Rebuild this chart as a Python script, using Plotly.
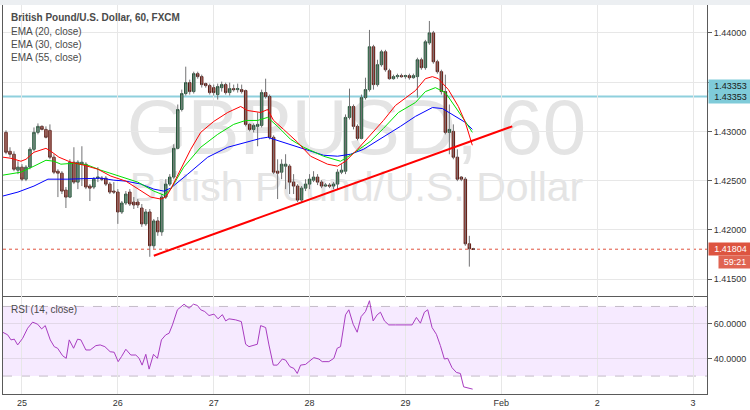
import plotly.graph_objects as go

# ---------------- data ----------------
# candle times: hours from 25 Jan 00:00 (hourly bars)
hours = list(range(-4, 114))

opens = [1.42990, 1.42798, 1.42768, 1.42606, 1.42637, 1.42515, 1.42637, 1.42818, 1.42990, 1.43051,
         1.43020, 1.43010, 1.42738, 1.42596, 1.42576, 1.42404, 1.42333, 1.42687, 1.42485, 1.42667,
         1.42667, 1.42445, 1.42435, 1.42525, 1.42525, 1.42525, 1.42465, 1.42394, 1.42384, 1.42182,
         1.42273, 1.42384, 1.42283, 1.42283, 1.42222, 1.42061, 1.42182, 1.41839, 1.42091, 1.41980,
         1.42333, 1.42465, 1.42536, 1.42828, 1.43222, 1.43384, 1.43495, 1.43404, 1.43586, 1.43556,
         1.43485, 1.43465, 1.43444, 1.43374, 1.43444, 1.43475, 1.43394, 1.43434, 1.43424, 1.43424,
         1.43414, 1.43071, 1.43020, 1.43051, 1.43061, 1.43394, 1.43354, 1.42940, 1.42596, 1.42586,
         1.42647, 1.42647, 1.42485, 1.42445, 1.42303, 1.42424, 1.42465, 1.42505, 1.42536, 1.42485,
         1.42445, 1.42455, 1.42445, 1.42465, 1.42586, 1.42596, 1.43142, 1.43253, 1.43051, 1.42929,
         1.43343, 1.43424, 1.43859, 1.43475, 1.43677, 1.43808, 1.43616, 1.43535, 1.43556, 1.43566,
         1.43556, 1.43566, 1.43545, 1.43556, 1.43727, 1.43647, 1.43899, 1.44000, 1.43707, 1.43606,
         1.43404, 1.42990, 1.43000, 1.42738, 1.42536, 1.42515, 1.41859, 1.41808]
highs = [1.43010, 1.42839, 1.42798, 1.42697, 1.42667, 1.42657, 1.42839, 1.43040, 1.43081, 1.43061,
         1.43051, 1.43071, 1.42768, 1.42616, 1.42596, 1.42435, 1.42717, 1.42839, 1.42707, 1.42849,
         1.42687, 1.42465, 1.42536, 1.42637, 1.42546, 1.42546, 1.42485, 1.42485, 1.42414, 1.42293,
         1.42394, 1.42414, 1.42333, 1.42313, 1.42263, 1.42212, 1.42212, 1.42111, 1.42131, 1.42364,
         1.42515, 1.42566, 1.42869, 1.43273, 1.43424, 1.43657, 1.43525, 1.43606, 1.43606, 1.43576,
         1.43495, 1.43485, 1.43475, 1.43485, 1.43505, 1.43495, 1.43495, 1.43475, 1.43485, 1.43475,
         1.43424, 1.43081, 1.43081, 1.43192, 1.43424, 1.43535, 1.43374, 1.42960, 1.42717, 1.42717,
         1.42768, 1.42667, 1.42566, 1.42465, 1.42445, 1.42515, 1.42566, 1.42596, 1.42566, 1.42505,
         1.42475, 1.42475, 1.42485, 1.42616, 1.42667, 1.43172, 1.43434, 1.43273, 1.43071, 1.43374,
         1.43545, 1.44030, 1.43879, 1.43727, 1.43828, 1.43828, 1.43636, 1.43576, 1.43586, 1.43586,
         1.43576, 1.43586, 1.43586, 1.43748, 1.43748, 1.43929, 1.44121, 1.44020, 1.43727, 1.43626,
         1.43576, 1.43273, 1.43071, 1.42818, 1.42546, 1.42536, 1.41940, 1.41818]
lows = [1.42768, 1.42738, 1.42596, 1.42566, 1.42495, 1.42495, 1.42616, 1.42798, 1.42970, 1.43010,
        1.42929, 1.42717, 1.42566, 1.42333, 1.42364, 1.42222, 1.42323, 1.42465, 1.42414, 1.42445,
        1.42414, 1.42293, 1.42414, 1.42485, 1.42495, 1.42445, 1.42364, 1.42364, 1.42061, 1.42162,
        1.42253, 1.42243, 1.42212, 1.42222, 1.42031, 1.42041, 1.41727, 1.41808, 1.41940, 1.41940,
        1.42313, 1.42445, 1.42515, 1.42818, 1.43202, 1.43364, 1.43374, 1.43384, 1.43535, 1.43445,
        1.43444, 1.43374, 1.43364, 1.43323, 1.43404, 1.43374, 1.43364, 1.43404, 1.43394, 1.43384,
        1.43051, 1.43000, 1.42990, 1.42849, 1.43040, 1.43333, 1.42919, 1.42566, 1.42313, 1.42515,
        1.42414, 1.42364, 1.42364, 1.42283, 1.42283, 1.42394, 1.42414, 1.42485, 1.42455, 1.42424,
        1.42435, 1.42424, 1.42414, 1.42414, 1.42566, 1.42566, 1.43121, 1.43020, 1.42909, 1.42919,
        1.43323, 1.43404, 1.43424, 1.43455, 1.43657, 1.43606, 1.43525, 1.43525, 1.43535, 1.43545,
        1.43535, 1.43525, 1.43535, 1.43343, 1.43626, 1.43626, 1.43879, 1.43687, 1.43586, 1.43374,
        1.42970, 1.42768, 1.42717, 1.42495, 1.42495, 1.41839, 1.41627, 1.41798]
closes = [1.42788, 1.42768, 1.42616, 1.42637, 1.42515, 1.42637, 1.42818, 1.42990, 1.43051, 1.43020,
          1.42940, 1.42738, 1.42586, 1.42576, 1.42394, 1.42333, 1.42687, 1.42485, 1.42687, 1.42687,
          1.42435, 1.42424, 1.42515, 1.42536, 1.42515, 1.42465, 1.42384, 1.42384, 1.42182, 1.42273,
          1.42364, 1.42263, 1.42253, 1.42253, 1.42061, 1.42182, 1.41839, 1.42091, 1.41980, 1.42333,
          1.42465, 1.42536, 1.42828, 1.43222, 1.43384, 1.43495, 1.43404, 1.43586, 1.43556, 1.43475,
          1.43465, 1.43394, 1.43394, 1.43455, 1.43475, 1.43394, 1.43434, 1.43424, 1.43434, 1.43404,
          1.43071, 1.43020, 1.43061, 1.43071, 1.43394, 1.43354, 1.42940, 1.42586, 1.42576, 1.42667,
          1.42667, 1.42485, 1.42445, 1.42303, 1.42424, 1.42465, 1.42515, 1.42536, 1.42485, 1.42445,
          1.42455, 1.42445, 1.42465, 1.42586, 1.42606, 1.43142, 1.43253, 1.43051, 1.42929, 1.43343,
          1.43424, 1.43859, 1.43475, 1.43677, 1.43808, 1.43626, 1.43535, 1.43556, 1.43566, 1.43556,
          1.43566, 1.43545, 1.43566, 1.43727, 1.43647, 1.43909, 1.44000, 1.43707, 1.43606, 1.43404,
          1.42990, 1.43020, 1.42738, 1.42515, 1.42515, 1.41859, 1.41808, 1.41804]

ema20_t = [-4.75, -2.75, -0.25, 1.0, 3.0, 6.0, 7.25, 9.25, 12.25, 15.5, 19.0, 22.25, 26.0, 29.0,
           32.25, 34.75, 36.0, 37.25, 39.75, 42.25, 44.75, 48.0, 51.5, 54.75, 56.5, 59.75, 61.5,
           63.0, 65.5, 69.0, 72.25, 76.5, 79.0, 81.0, 84.0, 87.25, 90.5, 93.5, 96.0, 98.5, 101.0,
           102.75, 104.25, 106.75, 109.25, 111.0, 112.75]
ema20_v = [1.42738, 1.42727, 1.42697, 1.42717, 1.42788, 1.42828, 1.42798, 1.42738, 1.42687, 1.42657,
           1.42616, 1.42546, 1.42495, 1.42414, 1.42333, 1.42313, 1.42333, 1.42414, 1.42616, 1.42818,
           1.42990, 1.43101, 1.43192, 1.43253, 1.43212, 1.43192, 1.43222, 1.43111, 1.43020, 1.42889,
           1.42748, 1.42667, 1.42647, 1.42697, 1.42818, 1.42960, 1.43111, 1.43263, 1.43343, 1.43414,
           1.43535, 1.43556, 1.43535, 1.43424, 1.43253, 1.43091, 1.42859]

ema30_t = [-4.75, -2.0, -0.25, 3.0, 6.0, 8.0, 9.75, 13.0, 16.5, 19.75, 23.0, 26.0, 29.0, 33.0, 35.5,
           37.25, 40.5, 44.75, 49.0, 53.0, 56.0, 59.0, 61.5, 64.0, 67.25, 70.5, 75.5, 79.75, 83.0,
           87.25, 90.5, 94.25, 98.5, 101.0, 103.5, 106.0, 108.5, 111.0, 112.75]
ema30_v = [1.42556, 1.42576, 1.42586, 1.42647, 1.42707, 1.42697, 1.42667, 1.42677, 1.42657, 1.42606,
           1.42566, 1.42525, 1.42485, 1.42394, 1.42354, 1.42414, 1.42637, 1.42839, 1.42970, 1.43071,
           1.43111, 1.43111, 1.43142, 1.43051, 1.42919, 1.42839, 1.42748, 1.42697, 1.42778, 1.42899,
           1.43030, 1.43192, 1.43293, 1.43404, 1.43444, 1.43394, 1.43253, 1.43101, 1.42990]

ema55_t = [-4.75, -1.0, 3.0, 6.5, 11.5, 16.5, 19.75, 23.0, 26.0, 29.75, 33.0, 35.5, 37.25, 41.5,
           46.5, 51.5, 56.0, 59.75, 61.5, 65.5, 69.75, 75.5, 79.0, 82.25, 85.5, 90.5, 94.75, 98.5,
           102.75, 105.25, 108.5, 111.0, 112.75]
ema55_v = [1.42344, 1.42384, 1.42445, 1.42515, 1.42515, 1.42525, 1.42525, 1.42505, 1.42495, 1.42465,
           1.42414, 1.42394, 1.42424, 1.42566, 1.42738, 1.42839, 1.42889, 1.42929, 1.42940, 1.42889,
           1.42839, 1.42758, 1.42748, 1.42768, 1.42818, 1.42940, 1.43051, 1.43152, 1.43242, 1.43232,
           1.43152, 1.43091, 1.43020]

rsi_t = [-4.83, -3.58, -2.75, -1.92, -1.08, 0.17, 1.42, 2.67, 3.92, 4.92, 5.83, 7.08, 8.08, 8.92,
         10.17, 11.08, 11.83, 12.92, 13.92, 14.75, 16.0, 17.08, 18.5, 19.58, 20.75, 22.08, 23.08,
         24.08, 24.92, 26.0, 27.25, 28.5, 29.33, 30.08, 31.0, 31.83, 32.92, 33.92, 34.92, 36.0,
         36.83, 37.67, 38.92, 40.58, 41.83, 42.92, 43.92, 44.75, 45.75, 46.83, 48.08, 49.08, 50.17,
         51.0, 51.83, 53.5, 54.92, 56.0, 56.83, 58.92, 59.75, 61.0, 61.83, 62.92, 63.92, 65.17,
         66.0, 67.08, 68.08, 68.92, 69.75, 71.0, 71.83, 73.08, 74.33, 75.17, 76.83, 78.08, 78.92,
         79.75, 81.0, 81.83, 82.92, 83.92, 84.92, 86.0, 87.0, 87.92, 88.92, 89.75, 90.75, 91.83,
         93.5, 95.17, 96.42, 97.67, 98.75, 99.75, 100.75, 101.58, 102.67, 103.75, 104.75, 105.75,
         106.58, 107.67, 108.75, 109.75, 110.58, 111.83, 112.83]
rsi_v = [55.2, 53.7, 50.8, 51.2, 47.9, 51.7, 57.5, 61.0, 59.8, 57.1, 59.0, 50.8, 46.9, 46.0, 41.7,
         40.2, 50.8, 46.0, 51.2, 50.8, 45.0, 45.0, 47.5, 47.9, 46.9, 44.0, 43.7, 38.3, 41.2, 45.4,
         42.1, 42.1, 40.2, 36.3, 42.5, 34.0, 42.5, 40.2, 50.8, 53.7, 54.6, 59.4, 68.1, 71.3, 69.0,
         71.3, 70.6, 68.1, 67.1, 64.8, 65.6, 62.9, 65.3, 61.7, 62.9, 62.3, 61.3, 48.3, 46.9, 48.3,
         59.0, 57.9, 47.9, 36.3, 36.3, 39.8, 39.2, 35.4, 34.4, 31.5, 36.3, 36.7, 38.3, 40.6, 39.8,
         38.3, 38.3, 40.2, 46.0, 46.9, 65.2, 68.1, 59.8, 55.2, 64.2, 67.1, 73.3, 61.7, 65.2, 66.7,
         61.7, 59.4, 59.4, 59.4, 59.0, 59.4, 63.7, 60.4, 66.7, 68.1, 57.9, 54.0, 47.5, 39.8, 40.2,
         34.8, 32.1, 31.5, 23.8, 23.3, 22.5]

trend_t = [33.0, 122.75]
trend_v = [1.41738, 1.43051]

level_price = 1.43353
last_price = 1.41804
countdown = "59:21"

day_ticks = [0, 24, 48, 72, 96, 120, 144, 168]
day_labels = ["25", "26", "27", "28", "29", "Feb", "2", "3"]
price_ticks = [1.415, 1.42, 1.425, 1.43, 1.435, 1.44]
price_labels = ["1.41500", "1.42000", "1.42500", "1.43000", "", "1.44000"]
rsi_ticks = [40, 60]
rsi_labels = ["40.0000", "60.0000"]

# ---------------- figure ----------------
FONT = "Liberation Sans, Arial, sans-serif"
WM_FONT = "Liberation Sans, Arial, sans-serif"
W, H = 750, 410
ML, MR, MT, MB = 2, 43, 5, 14
PH = H - MT - MB
split = (H - MB - 297) / PH  # RSI pane fraction


def py(ypix):
    return (H - MB - ypix) / PH


def px(xpix):
    return (xpix - ML) / (W - ML - MR)


fig = go.Figure()

# wicks
wx, wy = [], []
for t, hi, lo in zip(hours, highs, lows):
    wx += [t, t, None]
    wy += [lo, hi, None]
fig.add_trace(go.Scatter(x=wx, y=wy, mode="lines", line=dict(color="#737375", width=1),
                         hoverinfo="skip", showlegend=False, xaxis="x", yaxis="y"))

body_hi = [max(o, c) for o, c in zip(opens, closes)]
body_lo = [min(o, c) for o, c in zip(opens, closes)]
fig.add_trace(go.Candlestick(
    x=hours, open=opens, high=body_hi, low=body_lo, close=closes,
    increasing=dict(fillcolor="#6ba583", line=dict(color="#225437", width=1)),
    decreasing=dict(fillcolor="#d75442", line=dict(color="#5b1a13", width=1)),
    whiskerwidth=0, showlegend=False, xaxis="x", yaxis="y"))

fig.add_trace(go.Scatter(x=ema55_t, y=ema55_v, mode="lines", line=dict(color="#0000ff", width=1),
                         showlegend=False, xaxis="x", yaxis="y"))
fig.add_trace(go.Scatter(x=ema30_t, y=ema30_v, mode="lines", line=dict(color="#00e000", width=1),
                         showlegend=False, xaxis="x", yaxis="y"))
fig.add_trace(go.Scatter(x=ema20_t, y=ema20_v, mode="lines", line=dict(color="#ff0000", width=1),
                         showlegend=False, xaxis="x", yaxis="y"))

fig.add_trace(go.Scatter(x=trend_t, y=trend_v, mode="lines", line=dict(color="#ff0000", width=2),
                         showlegend=False, xaxis="x", yaxis="y"))

fig.add_trace(go.Scatter(x=rsi_t, y=rsi_v, mode="lines", line=dict(color="#a83cc0", width=1),
                         showlegend=False, xaxis="x2", yaxis="y2"))

shapes = [
    # top strip
    dict(type="rect", xref="paper", yref="paper", x0=-0.01, x1=1.07, y0=1.0, y1=py(0),
         fillcolor="#eceff2", line=dict(width=0), layer="above"),
    # level line
    dict(type="line", xref="paper", yref="y", x0=0, x1=1, y0=level_price, y1=level_price,
         line=dict(color="#8fd0dd", width=2), layer="below"),
    # last price line
    dict(type="line", xref="paper", yref="y", x0=0, x1=1, y0=last_price, y1=last_price,
         line=dict(color="#e0533f", width=1, dash="dot"), layer="below"),
    # RSI band
    dict(type="rect", xref="paper", yref="y2", x0=0, x1=1, y0=30, y1=70,
         fillcolor="rgba(153,21,255,0.09)", line=dict(width=0), layer="below"),
    dict(type="line", xref="paper", yref="y2", x0=0, x1=1, y0=70, y1=70,
         line=dict(color="#c4bcc8", width=1, dash="dash"), layer="below"),
    dict(type="line", xref="paper", yref="y2", x0=0, x1=1, y0=30, y1=30,
         line=dict(color="#c4bcc8", width=1, dash="dash"), layer="below"),
    # watermark
    dict(type="rect", xref="paper", yref="paper", x0=px(356) - 0.01, x1=px(356) + 0.01,
         y0=py(121) - 0.01, y1=py(121) + 0.01, line=dict(width=0), layer="below",
         label=dict(text="GBPUSD, 60", font=dict(size=78, color="#e4e4e4", family=WM_FONT),
                    textposition="middle center")),
    dict(type="rect", xref="paper", yref="paper", x0=px(356) - 0.01, x1=px(356) + 0.01,
         y0=py(184) - 0.01, y1=py(184) + 0.01, line=dict(width=0), layer="below",
         label=dict(text="British Pound/U.S. Dollar", font=dict(size=41, color="#e4e4e4", family=WM_FONT),
                    textposition="middle center")),
]

ann = []
legend_lines = [("<b>British Pound/U.S. Dollar, 60, FXCM</b>", 18),
                ("EMA (20, close)", 32), ("EMA (30, close)", 45), ("EMA (55, close)", 58)]
for txt, yp in legend_lines:
    ann.append(dict(text=txt, xref="paper", yref="paper", x=px(8), y=py(yp), xanchor="left",
                    yanchor="middle", showarrow=False, font=dict(size=10, color="#4a4a4a", family=FONT)))
ann.append(dict(text="RSI (14, close)", xref="paper", yref="paper", x=px(8), y=py(311), xanchor="left",
                yanchor="middle", showarrow=False, font=dict(size=10, color="#4a4a4a", family=FONT)))

price_boxes = [(f"{level_price:.5f}", level_price, 11, "#7fcbd9", "#1a1a1a", 41, 0),
               (f"{level_price:.5f}", level_price, 0, "#7fcbd9", "#1a1a1a", 41, 0),
               (f"{last_price:.5f}", last_price, 0, "#dd5440", "#ffffff", 41, 0),
               (countdown, last_price, -13, "#e06452", "#ffffff", 30, 10)]
for txt, yv, shift, bg, fc, wd, xs in price_boxes:
    ann.append(dict(text=txt, xref="paper", yref="y", x=1, y=yv, xanchor="left", yanchor="middle",
                    yshift=shift, xshift=1 + xs, showarrow=False, bgcolor=bg, width=wd, height=10,
                    borderpad=1, font=dict(size=9, color=fc, family=FONT)))

axis_line = "#5a5a5a"
grid = "#e7e7e7"
fig.update_layout(
    width=W, height=H, margin=dict(l=ML, r=MR, t=MT, b=MB),
    paper_bgcolor="#ffffff", plot_bgcolor="#ffffff",
    showlegend=False, boxgap=0.12, hovermode=False,
    shapes=shapes, annotations=ann,
    xaxis=dict(domain=[0, 1], range=[-4.75, 171.5], anchor="y", showticklabels=False,
               tickvals=day_ticks, showgrid=True, gridcolor=grid, zeroline=False,
               showline=True, linecolor=axis_line, linewidth=1,
               rangeslider=dict(visible=False), fixedrange=True),
    yaxis=dict(domain=[split, 1], range=[1.41334, 1.44283], side="right", anchor="x",
               tickvals=price_ticks, ticktext=price_labels, ticks="outside", ticklen=4,
               tickcolor=axis_line, tickfont=dict(size=9, color="#333333", family=FONT),
               showgrid=True, gridcolor=grid, zeroline=False,
               showline=True, mirror=True, linecolor=axis_line, linewidth=1),
    xaxis2=dict(domain=[0, 1], range=[-4.75, 171.5], anchor="y2", matches="x",
                tickvals=day_ticks, ticktext=day_labels, ticks="",
                tickfont=dict(size=9, color="#333333", family=FONT),
                showgrid=True, gridcolor=grid, zeroline=False,
                showline=True, linecolor=axis_line, linewidth=1),
    yaxis2=dict(domain=[0, split], range=[19.7, 76.3], side="right", anchor="x2",
                tickvals=rsi_ticks, ticktext=rsi_labels, ticks="outside", ticklen=4,
                tickcolor=axis_line, tickfont=dict(size=9, color="#333333", family=FONT),
                showgrid=True, gridcolor="#e2d8e8", zeroline=False,
                showline=True, mirror=True, linecolor=axis_line, linewidth=1),
)

fig.write_html("out.html", config={"displayModeBar": False, "staticPlot": True},
               post_script="document.body.style.margin='0';document.body.style.padding='0';")
